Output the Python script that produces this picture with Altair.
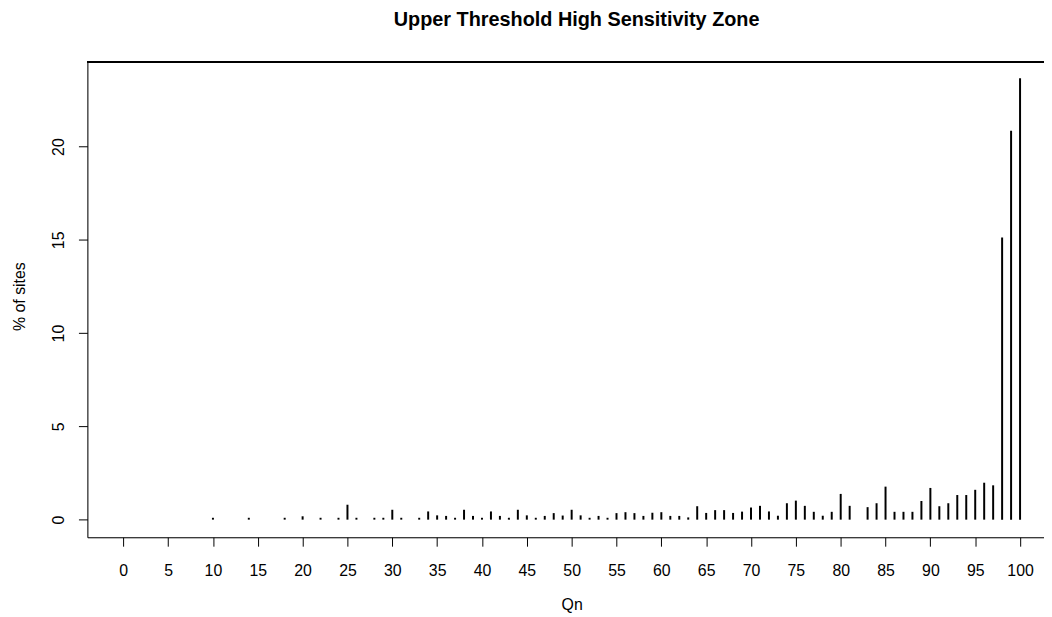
import altair as alt
import pandas as pd

qn = [10, 14, 18, 20, 22, 24, 25, 26, 28, 29, 30, 31, 33, 34, 35, 36, 37, 38, 39, 40,
      41, 42, 43, 44, 45, 46, 47, 48, 49, 50, 51, 52, 53, 54, 55, 56, 57, 58, 59, 60,
      61, 62, 63, 64, 65, 66, 67, 68, 69, 70, 71, 72, 73, 74, 75, 76, 77, 78, 79, 80,
      81, 83, 84, 85, 86, 87, 88, 89, 90, 91, 92, 93, 94, 95, 96, 97, 98, 99, 100]
pct = [0.1, 0.1, 0.1, 0.18, 0.1, 0.1, 0.8, 0.1, 0.1, 0.1, 0.53, 0.1, 0.1, 0.44, 0.23, 0.2, 0.1, 0.53, 0.2, 0.1,
       0.44, 0.2, 0.1, 0.53, 0.23, 0.1, 0.2, 0.35, 0.22, 0.53, 0.23, 0.1, 0.2, 0.1, 0.35, 0.4, 0.35, 0.2, 0.37, 0.4,
       0.2, 0.2, 0.12, 0.72, 0.36, 0.51, 0.51, 0.36, 0.43, 0.65, 0.74, 0.44, 0.21, 0.88, 1.02, 0.74, 0.42, 0.21, 0.42, 1.38,
       0.74, 0.67, 0.88, 1.77, 0.42, 0.42, 0.42, 1.0, 1.7, 0.72, 0.88, 1.32, 1.32, 1.6, 1.98, 1.84, 15.13, 20.85, 23.66]
x_ticks = list(range(0, 101, 5))
y_ticks = [0, 5, 10, 15, 20]

df = pd.DataFrame({"Qn": qn, "pct": pct, "zero": [0] * len(qn)})

W, H = 964, 479
FONT = "Liberation Sans"

xscale = alt.Scale(domain=[-4, 102.67], nice=False, zero=False)
yscale = alt.Scale(domain=[-0.944, 24.54], nice=False, zero=False)

bars = alt.Chart(df).mark_rule(color="black", strokeWidth=2).encode(
    x=alt.X("Qn:Q", scale=xscale,
            axis=alt.Axis(values=x_ticks, grid=False, domainColor="black", tickColor="black",
                          tickSize=9, labelFontSize=16, labelColor="black", labelFont=FONT,
                          labelPadding=17, labelFlush=False, labelOverlap=False,
                          title="Qn", titleFont=FONT, titleFontSize=16, titleFontWeight="normal",
                          titleColor="black", titleX=488, titleY=68, titleBaseline="middle",
                          titleAlign="center")),
    y=alt.Y("zero:Q", scale=yscale,
            axis=alt.Axis(values=y_ticks, grid=False, domainColor="black", tickColor="black",
                          tickSize=9, labelFontSize=16, labelColor="black", labelFont=FONT,
                          labelAngle=270, labelAlign="center", labelBaseline="bottom",
                          labelPadding=12, labelFlush=False, labelOverlap=False,
                          title="% of sites", titleFont=FONT, titleFontSize=16,
                          titleFontWeight="normal", titleColor="black", titleAngle=270,
                          titleX=-68, titleY=236, titleAlign="center", titleBaseline="middle")),
    y2="pct:Q",
)

top_border = alt.Chart(df).mark_rule(color="black", strokeWidth=1).encode(
    x=alt.value(0), x2=alt.value(W), y=alt.value(0)
)

chart = alt.layer(bars, top_border).properties(
    width=W, height=H,
    autosize=alt.AutoSizeParams(type="none"),
    padding={"left": 80, "top": 52, "right": 0, "bottom": 76},
    title=alt.TitleParams("Upper Threshold High Sensitivity Zone", font=FONT, fontSize=20,
                          fontWeight="bold", color="black", anchor="middle", dx=11,
                          offset=22, baseline="middle"),
).configure_view(stroke=None).configure(background="white")

chart.save("out.html", embed_options={"renderer": "svg", "actions": False})
